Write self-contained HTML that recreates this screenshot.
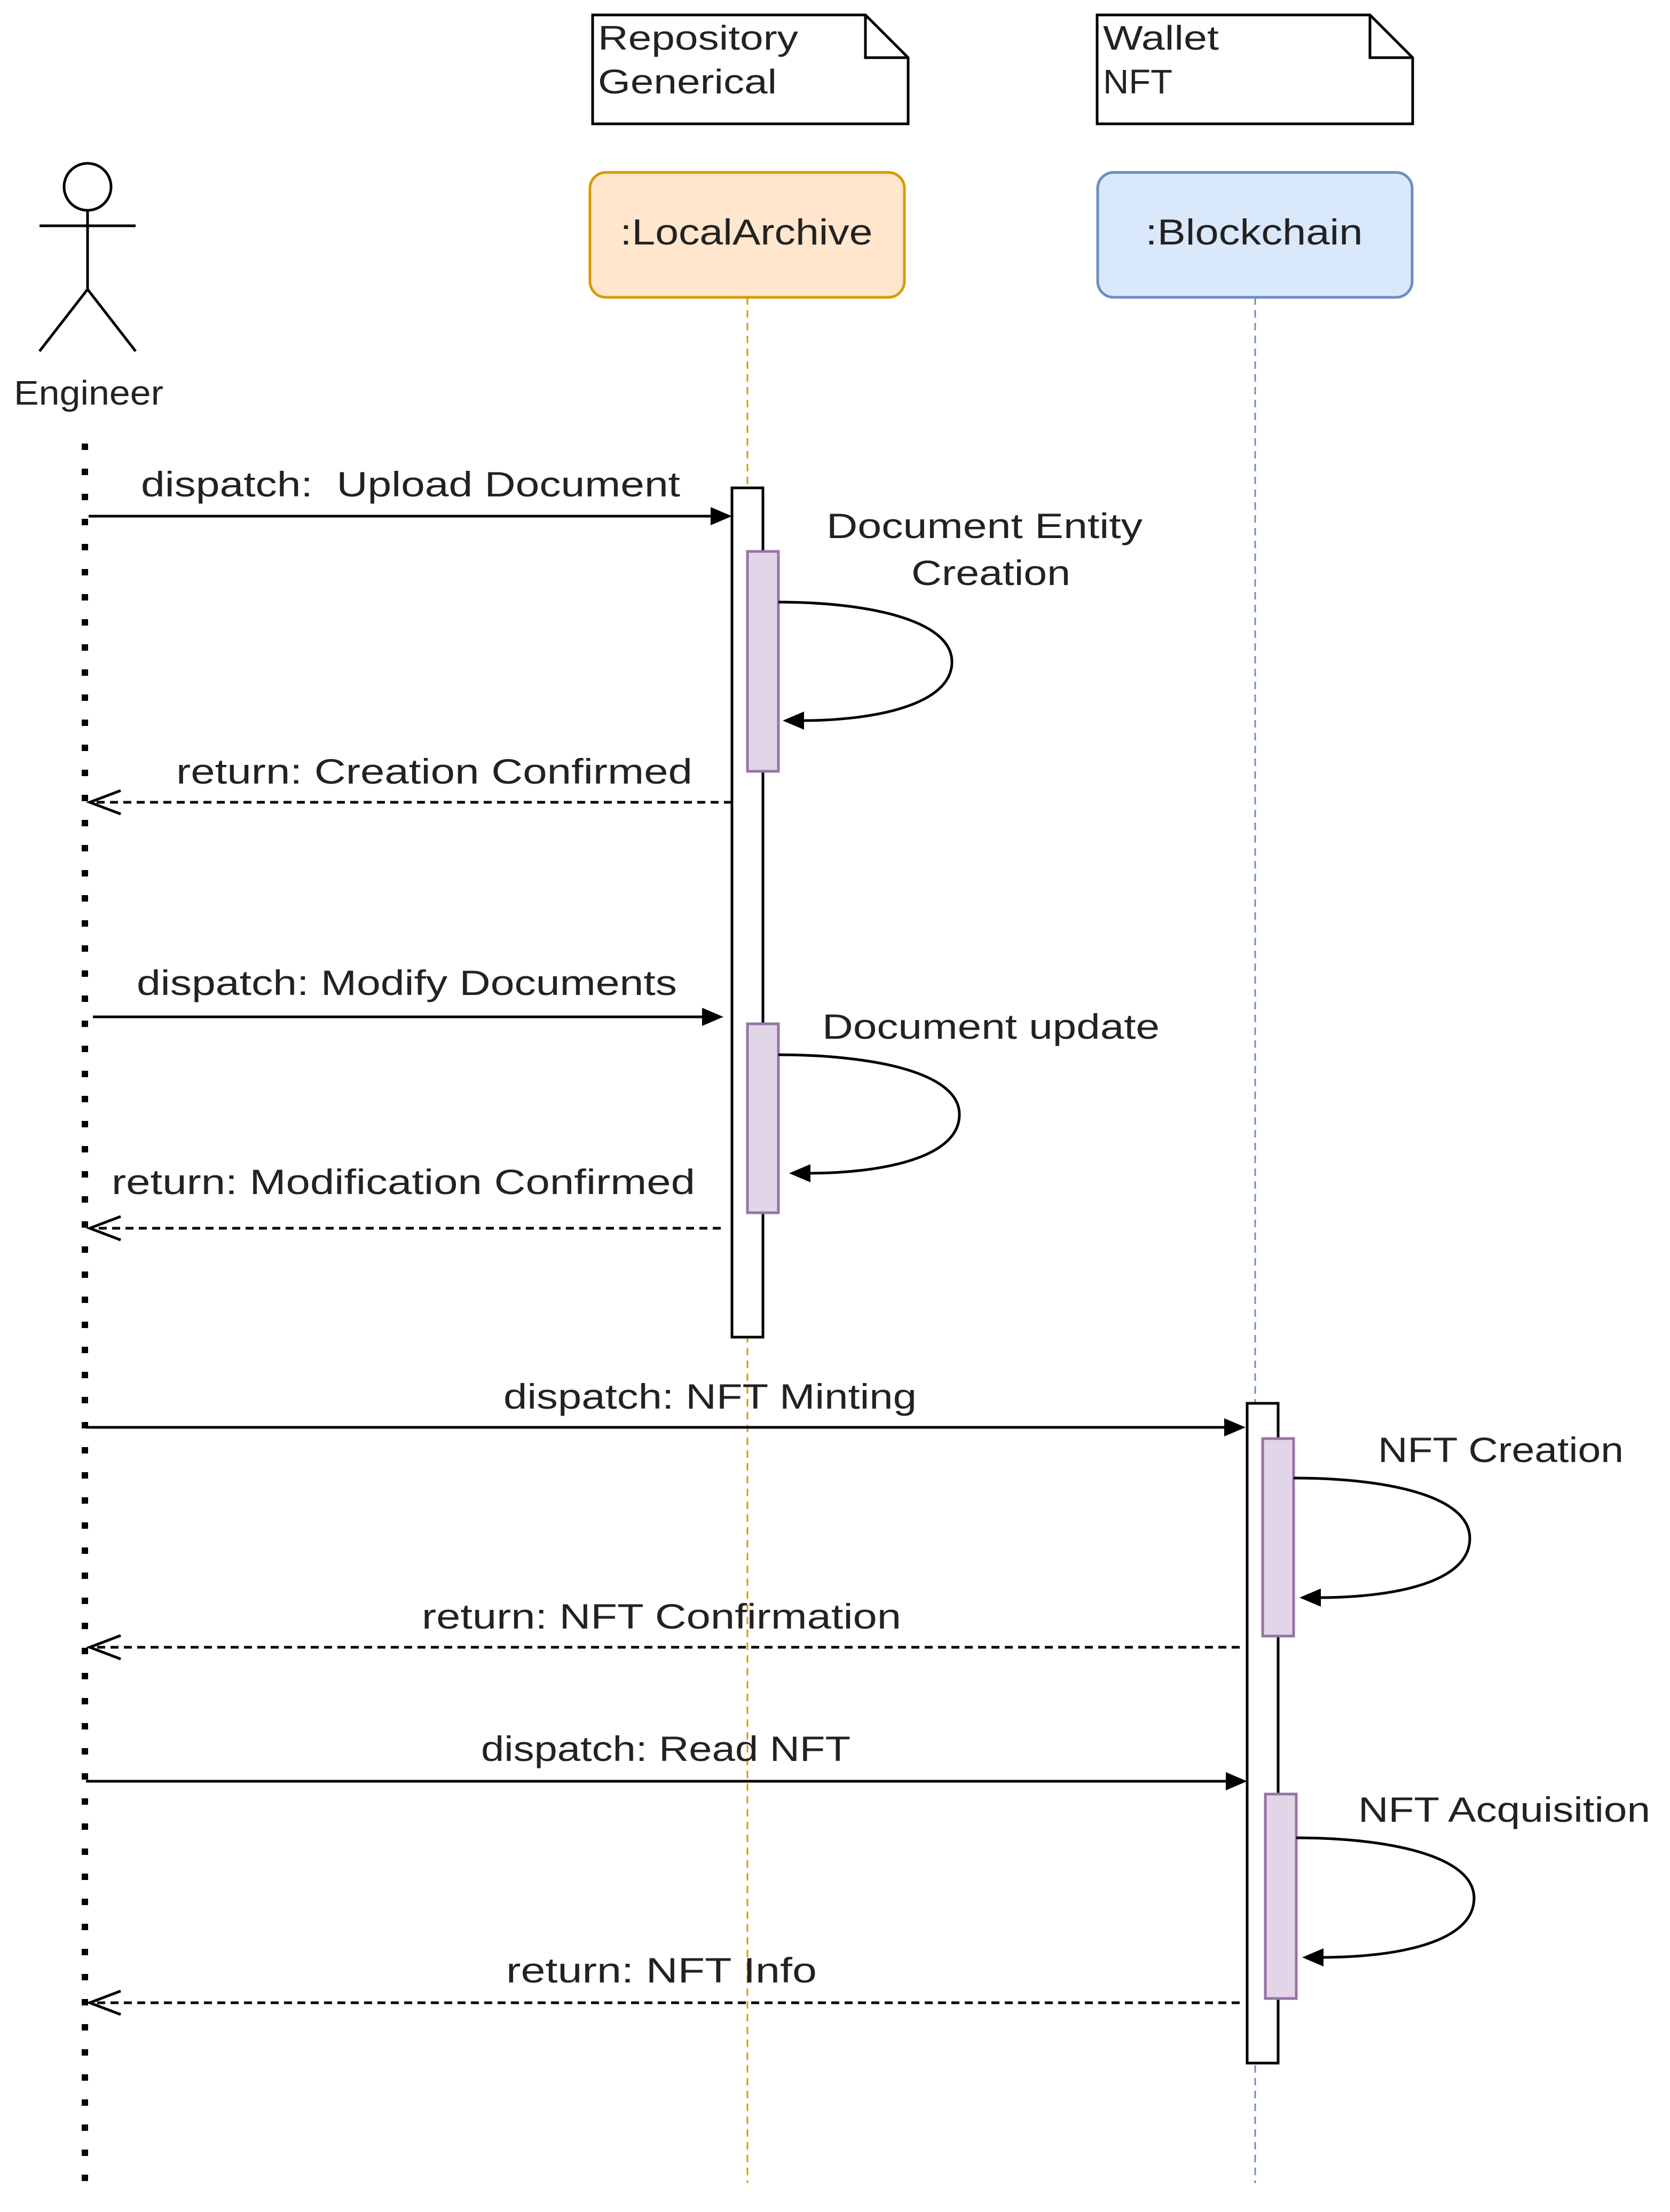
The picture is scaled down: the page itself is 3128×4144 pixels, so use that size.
<!DOCTYPE html>
<html><head><meta charset="utf-8"><style>
html,body{margin:0;padding:0;background:#fff;}
svg{display:block;}
text{font-family:"Liberation Sans",sans-serif;fill:#222;}
</style></head><body>
<svg width="3128" height="4144" viewBox="0 0 3128 4144" xmlns="http://www.w3.org/2000/svg">
<rect width="3128" height="4144" fill="#fff"/>
<!-- notes -->
<path d="M1110 28 H1621 L1701 108 V232 H1110 Z" fill="#fff" stroke="#000" stroke-width="5"/>
<path d="M1621 28 V108 H1701" fill="none" stroke="#000" stroke-width="5"/>
<text x="1120" y="93" font-size="64" textLength="375" lengthAdjust="spacingAndGlyphs">Repository</text>
<text x="1120" y="175" font-size="64" textLength="335" lengthAdjust="spacingAndGlyphs">Generical</text>
<path d="M2055 28 H2566 L2646 108 V232 H2055 Z" fill="#fff" stroke="#000" stroke-width="5"/>
<path d="M2566 28 V108 H2646" fill="none" stroke="#000" stroke-width="5"/>
<text x="2066" y="93" font-size="64" textLength="217" lengthAdjust="spacingAndGlyphs">Wallet</text>
<text x="2066" y="175" font-size="64" textLength="130" lengthAdjust="spacingAndGlyphs">NFT</text>
<!-- lifelines -->
<line x1="1400" y1="557" x2="1400" y2="4090" stroke="#d79b00" stroke-width="3" stroke-dasharray="14 10"/>
<line x1="2351" y1="557" x2="2351" y2="4090" stroke="#6c8ebf" stroke-width="3" stroke-dasharray="14 10"/>
<line x1="159" y1="831" x2="159" y2="4110" stroke="#000" stroke-width="12" stroke-dasharray="12 35"/>
<!-- participant boxes -->
<rect x="1105" y="323" width="589" height="234" rx="30" fill="#ffe6cc" stroke="#d79b00" stroke-width="5"/>
<text x="1398" y="458" font-size="68" text-anchor="middle" textLength="473" lengthAdjust="spacingAndGlyphs">:LocalArchive</text>
<rect x="2056" y="323" width="589" height="234" rx="30" fill="#dae8fc" stroke="#6c8ebf" stroke-width="5"/>
<text x="2349" y="458" font-size="68" text-anchor="middle" textLength="407" lengthAdjust="spacingAndGlyphs">:Blockchain</text>
<!-- actor -->
<g stroke="#000" stroke-width="5" fill="none">
<circle cx="164" cy="350" r="44" fill="#fff"/>
<line x1="164" y1="394" x2="164" y2="542"/>
<line x1="74" y1="423" x2="254" y2="423"/>
<line x1="164" y1="542" x2="74" y2="658"/>
<line x1="164" y1="542" x2="254" y2="658"/>
</g>
<text x="166" y="758" font-size="64" text-anchor="middle" textLength="280" lengthAdjust="spacingAndGlyphs">Engineer</text>
<!-- activations -->
<rect x="1371" y="914" width="58" height="1591" fill="#fff" stroke="#000" stroke-width="5"/>
<rect x="1400" y="1033" width="58" height="412" fill="#e1d5e7" stroke="#9673a6" stroke-width="5"/>
<rect x="1400" y="1918" width="58" height="354" fill="#e1d5e7" stroke="#9673a6" stroke-width="5"/>
<rect x="2336" y="2629" width="58" height="1236" fill="#fff" stroke="#000" stroke-width="5"/>
<rect x="2365" y="2695" width="58" height="370" fill="#e1d5e7" stroke="#9673a6" stroke-width="5"/>
<rect x="2370" y="3361" width="58" height="383" fill="#e1d5e7" stroke="#9673a6" stroke-width="5"/>
<!-- messages solid -->
<g stroke="#000" stroke-width="5" fill="none">
<line x1="166" y1="967" x2="1336" y2="967"/>
<line x1="174" y1="1905" x2="1320" y2="1905"/>
<line x1="161" y1="2674" x2="2298" y2="2674"/>
<line x1="161" y1="3337" x2="2301" y2="3337"/>
</g>
<g fill="#000">
<polygon points="1371,967 1331,950 1331,984"/>
<polygon points="1355,1905 1315,1888 1315,1922"/>
<polygon points="2333,2674 2293,2657 2293,2691"/>
<polygon points="2336,3337 2296,3320 2296,3354"/>
</g>
<!-- returns dashed -->
<g stroke="#000" stroke-width="5" fill="none">
<line x1="1371" y1="1503" x2="170" y2="1503" stroke-dasharray="15 10"/>
<line x1="1350" y1="2301" x2="170" y2="2301" stroke-dasharray="15 10"/>
<line x1="2322" y1="3086" x2="170" y2="3086" stroke-dasharray="15 10"/>
<line x1="2322" y1="3752" x2="170" y2="3752" stroke-dasharray="15 10"/>
<polyline points="226,1481 168,1503 226,1525"/>
<polyline points="226,2279 168,2301 226,2323"/>
<polyline points="226,3064 168,3086 226,3108"/>
<polyline points="226,3730 168,3752 226,3774"/>
</g>
<!-- self loops -->
<g stroke="#000" stroke-width="5" fill="none">
<path d="M1458 1128 C1620 1128 1783 1160 1783 1240 C1783 1320 1640 1350 1500 1350"/>
<path d="M1458 1976 C1620 1976 1797 2005 1797 2088 C1797 2170 1650 2198 1512 2198"/>
<path d="M2423 2769 C2590 2769 2753 2800 2753 2882 C2753 2965 2610 2993 2468 2993"/>
<path d="M2428 3443 C2595 3443 2761 3475 2761 3556 C2761 3638 2620 3667 2473 3667"/>
</g>
<g fill="#000">
<polygon points="1466,1350 1506,1333 1506,1367"/>
<polygon points="1478,2198 1518,2181 1518,2215"/>
<polygon points="2434,2993 2474,2976 2474,3010"/>
<polygon points="2439,3667 2479,3650 2479,3684"/>
</g>
<!-- labels -->
<g font-size="66">
<text x="264" y="930" textLength="1010" lengthAdjust="spacingAndGlyphs" xml:space="preserve">dispatch:  Upload Document</text>
<text x="1844" y="1008" text-anchor="middle" textLength="592" lengthAdjust="spacingAndGlyphs">Document Entity</text>
<text x="1856" y="1096" text-anchor="middle" textLength="298" lengthAdjust="spacingAndGlyphs">Creation</text>
<text x="330" y="1468" textLength="967" lengthAdjust="spacingAndGlyphs">return: Creation Confirmed</text>
<text x="256" y="1864" textLength="1012" lengthAdjust="spacingAndGlyphs">dispatch: Modify Documents</text>
<text x="1540" y="1946" textLength="632" lengthAdjust="spacingAndGlyphs">Document update</text>
<text x="209" y="2237" textLength="1093" lengthAdjust="spacingAndGlyphs">return: Modification Confirmed</text>
<text x="943" y="2639" textLength="774" lengthAdjust="spacingAndGlyphs">dispatch: NFT Minting</text>
<text x="2581" y="2739" textLength="460" lengthAdjust="spacingAndGlyphs">NFT Creation</text>
<text x="790" y="3051" textLength="898" lengthAdjust="spacingAndGlyphs">return: NFT Confirmation</text>
<text x="901" y="3299" textLength="692" lengthAdjust="spacingAndGlyphs">dispatch: Read NFT</text>
<text x="2544" y="3413" textLength="547" lengthAdjust="spacingAndGlyphs">NFT Acquisition</text>
<text x="948" y="3714" textLength="582" lengthAdjust="spacingAndGlyphs">return: NFT Info</text>
</g>
</svg>
</body></html>
